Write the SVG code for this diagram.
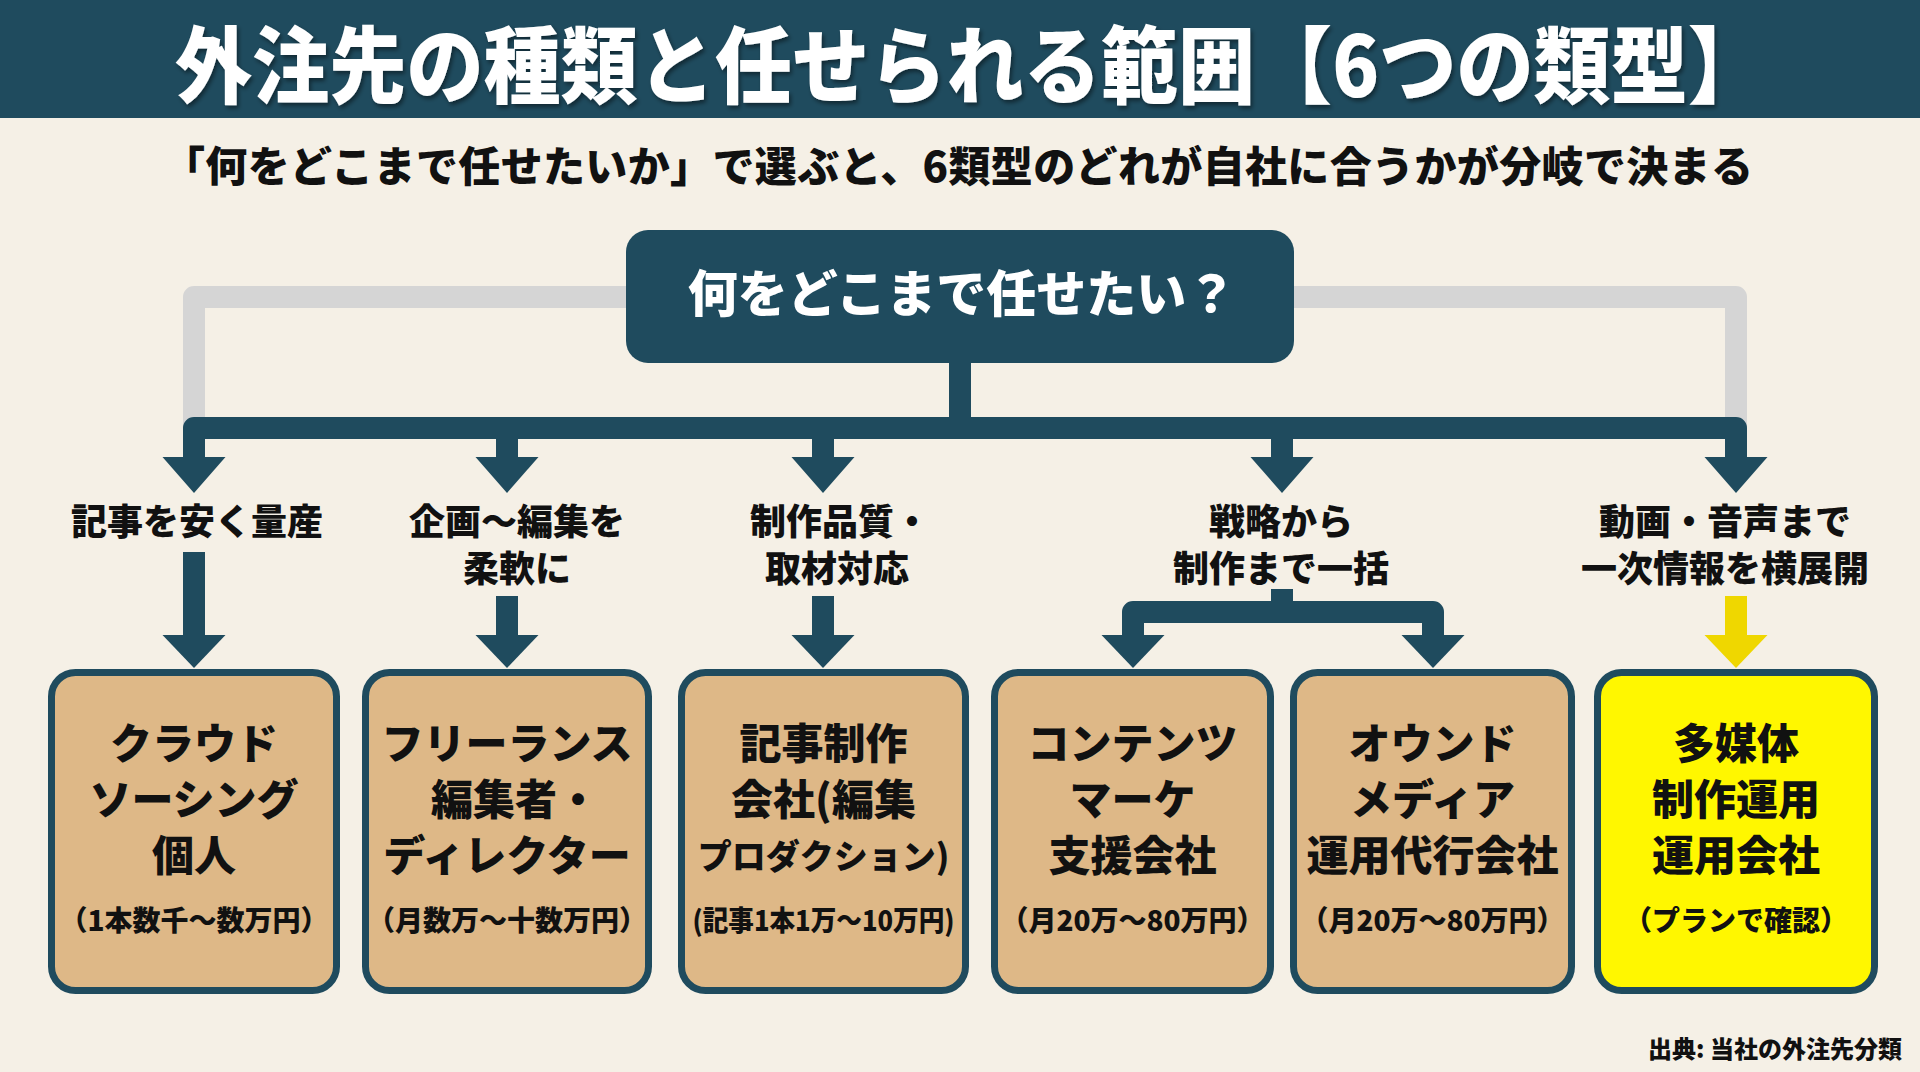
<svg xmlns="http://www.w3.org/2000/svg" width="1920" height="1072" viewBox="0 0 1920 1072">
  <defs>
    <style>
      .jp { font-family: "Noto Sans CJK JP", "Noto Sans CJK SC", sans-serif; font-weight: 900; }
      .title { fill: #ffffff; font-size: 84px; }
      .sub { fill: #111111; font-size: 42px; }
      .q { fill: #ffffff; font-size: 50px; }
      .lbl { fill: #111111; font-size: 36px; text-anchor: middle; }
      .bt { fill: #111111; font-size: 42px; text-anchor: middle; }
      .bt2 { fill: #111111; font-size: 34px; text-anchor: middle; }
      .pr { fill: #111111; font-size: 28px; text-anchor: middle; }
      .src { fill: #111111; font-size: 24px; text-anchor: end; }
      .box { fill: #deb887; stroke: #1f4b5e; stroke-width: 7; }
      .boxy { fill: #fff700; stroke: #1f4b5e; stroke-width: 7; }
      .gray { fill: none; stroke: #d5d5d5; stroke-width: 22; stroke-linejoin: round; }
      .dark { fill: none; stroke: #1f4b5e; stroke-width: 22; stroke-linejoin: round; }
      .yel { fill: none; stroke: #efd700; stroke-width: 22; }
      .ah { fill: #1f4b5e; }
      .ahy { fill: #efd700; }
    </style>
    <filter id="shadow" x="-5%" y="-20%" width="110%" height="140%">
      <feDropShadow dx="2" dy="3" stdDeviation="2" flood-color="#000000" flood-opacity="0.45"/>
    </filter>
  </defs>

  <rect x="0" y="0" width="1920" height="1072" fill="#f5f0e6"/>

  <g id="header">
    <rect x="0" y="0" width="1920" height="118" fill="#1f4b5e"/>
    <text class="jp title" x="175" y="97" textLength="1590" lengthAdjust="spacingAndGlyphs" filter="url(#shadow)">外注先の種類と任せられる範囲【6つの類型】</text>
  </g>

  <g id="subtitle">
    <text class="jp sub" x="163" y="182" textLength="1590">「何をどこまで任せたいか」で選ぶと、6類型のどれが自社に合うかが分岐で決まる</text>
  </g>

  <g id="connectors">
    <path class="gray" d="M640 297 H194 V428"/>
    <path class="gray" d="M1280 297 H1736 V428"/>
    <path class="dark" d="M960 360 V428"/>
    <path class="dark" d="M194 460 V428 H1736 V460"/>
    <path class="dark" d="M507 428 V460"/>
    <path class="dark" d="M823 428 V460"/>
    <path class="dark" d="M1282 428 V460"/>
    <polygon class="ah" points="162.5,457 225.5,457 194,493"/>
    <polygon class="ah" points="475.5,457 538.5,457 507,493"/>
    <polygon class="ah" points="791.5,457 854.5,457 823,493"/>
    <polygon class="ah" points="1250.5,457 1313.5,457 1282,493"/>
    <polygon class="ah" points="1704.5,457 1767.5,457 1736,493"/>

    <path class="dark" d="M194 552 V638"/>
    <path class="dark" d="M507 596 V638"/>
    <path class="dark" d="M823 596 V638"/>
    <path class="dark" d="M1282 589 V612"/>
    <path class="dark" d="M1133 638 V612 H1433 V638"/>
    <path class="yel" d="M1736 596 V638"/>
    <polygon class="ah" points="162.5,635 225.5,635 194,668"/>
    <polygon class="ah" points="475.5,635 538.5,635 507,668"/>
    <polygon class="ah" points="791.5,635 854.5,635 823,668"/>
    <polygon class="ah" points="1101.5,635 1164.5,635 1133,668"/>
    <polygon class="ah" points="1401.5,635 1464.5,635 1433,668"/>
    <polygon class="ahy" points="1704.5,635 1767.5,635 1736,668"/>
  </g>

  <g id="root">
    <rect x="626" y="230" width="668" height="133" rx="22" fill="#1f4b5e"/>
    <text class="jp q" x="962" y="312" text-anchor="middle">何をどこまで任せたい？</text>
  </g>

  <g id="labels">
    <text class="jp lbl" x="197" y="535">記事を安く量産</text>
    <text class="jp lbl" x="517" y="535">企画〜編集を</text>
    <text class="jp lbl" x="517" y="582">柔軟に</text>
    <text class="jp lbl" x="840" y="535">制作品質・</text>
    <text class="jp lbl" x="837" y="582">取材対応</text>
    <text class="jp lbl" x="1281" y="535">戦略から</text>
    <text class="jp lbl" x="1281" y="582">制作まで一括</text>
    <text class="jp lbl" x="1725" y="535">動画・音声まで</text>
    <text class="jp lbl" x="1725" y="582">一次情報を横展開</text>
  </g>

  <g id="node-crowd">
    <rect class="box" x="51.5" y="672.5" width="285" height="318" rx="24"/>
    <text class="jp bt" x="194" y="759">クラウド</text>
    <text class="jp bt" x="194" y="815">ソーシング</text>
    <text class="jp bt" x="194" y="871">個人</text>
    <text class="jp pr" x="194" y="931">（1本数千〜数万円）</text>
  </g>

  <g id="node-freelance">
    <rect class="box" x="365.5" y="672.5" width="283" height="318" rx="24"/>
    <text class="jp bt" x="507" y="759">フリーランス</text>
    <text class="jp bt" x="515" y="815">編集者・</text>
    <text class="jp bt" x="507" y="871">ディレクター</text>
    <text class="jp pr" x="507" y="931">（月数万〜十数万円）</text>
  </g>

  <g id="node-production">
    <rect class="box" x="681.5" y="672.5" width="284" height="318" rx="24"/>
    <text class="jp bt" x="823.5" y="759">記事制作</text>
    <text class="jp bt" x="823.5" y="815">会社(編集</text>
    <text class="jp bt2" x="823.5" y="869">プロダクション)</text>
    <text class="jp pr" x="823.5" y="931" textLength="262" lengthAdjust="spacingAndGlyphs">(記事1本1万〜10万円)</text>
  </g>

  <g id="node-contentmarketing">
    <rect class="box" x="994.5" y="672.5" width="276" height="318" rx="24"/>
    <text class="jp bt" x="1132.5" y="759">コンテンツ</text>
    <text class="jp bt" x="1132.5" y="815">マーケ</text>
    <text class="jp bt" x="1132.5" y="871">支援会社</text>
    <text class="jp pr" x="1132.5" y="931">（月20万〜80万円）</text>
  </g>

  <g id="node-ownedmedia">
    <rect class="box" x="1293.5" y="672.5" width="278" height="318" rx="24"/>
    <text class="jp bt" x="1432.5" y="759">オウンド</text>
    <text class="jp bt" x="1432.5" y="815">メディア</text>
    <text class="jp bt" x="1432.5" y="871">運用代行会社</text>
    <text class="jp pr" x="1432.5" y="931">（月20万〜80万円）</text>
  </g>

  <g id="node-multimedia">
    <rect class="boxy" x="1597.5" y="672.5" width="277" height="318" rx="24"/>
    <text class="jp bt" x="1736" y="759">多媒体</text>
    <text class="jp bt" x="1736" y="815">制作運用</text>
    <text class="jp bt" x="1736" y="871">運用会社</text>
    <text class="jp pr" x="1736" y="931">（プランで確認）</text>
  </g>

  <g id="source">
    <text class="jp src" x="1902" y="1058">出典: 当社の外注先分類</text>
  </g>
</svg>
